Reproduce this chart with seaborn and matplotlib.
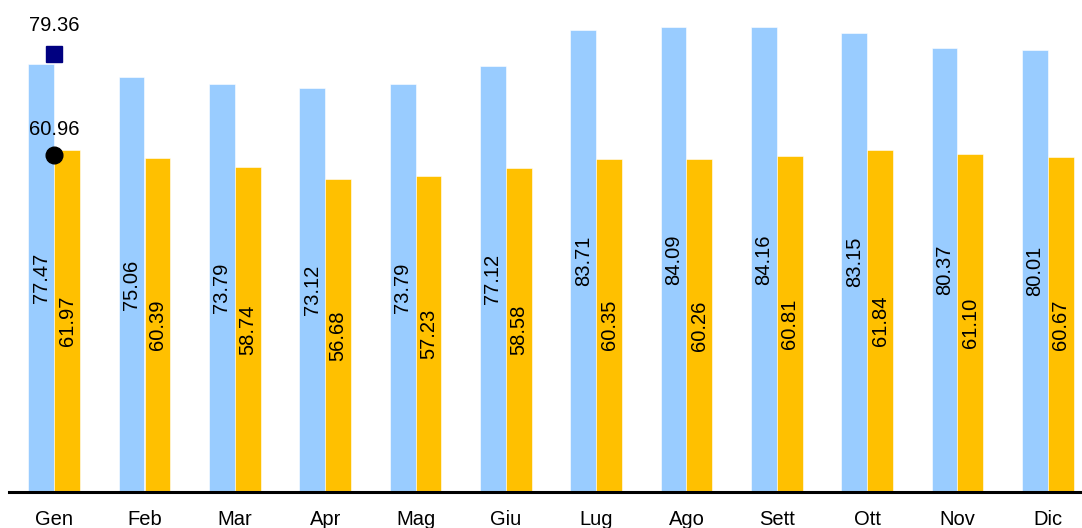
import matplotlib
matplotlib.use("Agg")
import matplotlib.pyplot as plt
import seaborn as sns
import pandas as pd

months = ["Gen", "Feb", "Mar", "Apr", "Mag", "Giu", "Lug", "Ago", "Sett", "Ott", "Nov", "Dic"]
serie_a = [77.47, 75.06, 73.79, 73.12, 73.79, 77.12, 83.71, 84.09, 84.16, 83.15, 80.37, 80.01]
serie_b = [61.97, 60.39, 58.74, 56.68, 57.23, 58.58, 60.35, 60.26, 60.81, 61.84, 61.10, 60.67]
punto_a = 79.36
punto_b = 60.96

colors = ["#99CCFF", "#FFC000"]

df = pd.DataFrame({
    "mese": months * 2,
    "valore": serie_a + serie_b,
    "serie": ["A"] * len(months) + ["B"] * len(months),
})

sns.set_theme(style="white")
plt.rcParams["font.family"] = ["Liberation Sans", "DejaVu Sans"]
plt.rcParams["text.color"] = "black"
plt.rcParams["xtick.color"] = "black"

fig = plt.figure(figsize=(10.82, 5.28), dpi=100)
ax = fig.add_axes([9 / 1082, 36 / 528, 1084 / 1082, 492 / 528])

sns.barplot(data=df, x="mese", y="valore", hue="serie", palette=colors,
            width=0.575, gap=0, dodge=True, ax=ax, legend=False,
            edgecolor="white", linewidth=0.4, saturation=1)

for cont in ax.containers:
    ax.bar_label(cont, fmt="%.2f", label_type="center", rotation=90,
                 fontsize=14.5, color="black")

ax.plot([0], [punto_a], marker="s", markersize=11, color="#000080", linestyle="none")
ax.plot([0], [punto_b], marker="o", markersize=12, color="black", linestyle="none")
ax.annotate(f"{punto_a:.2f}", (0, punto_a), xytext=(0, 13), textcoords="offset points",
            ha="center", va="bottom", fontsize=14.5, color="black")
ax.annotate(f"{punto_b:.2f}", (0, punto_b), xytext=(0, 12), textcoords="offset points",
            ha="center", va="bottom", fontsize=14.5, color="black")

ax.set_xlim(-0.5, 11.5)
ax.set_ylim(0, 492 / 5.525)
ax.set_xlabel("")
ax.set_ylabel("")
ax.set_yticks([])
ax.tick_params(axis="x", length=0, pad=13, labelsize=14.5, labelcolor="black")
for side in ["top", "right", "left"]:
    ax.spines[side].set_visible(False)
ax.spines["bottom"].set_linewidth(2.2)
ax.spines["bottom"].set_color("black")

fig.savefig("out.png", dpi=100)
